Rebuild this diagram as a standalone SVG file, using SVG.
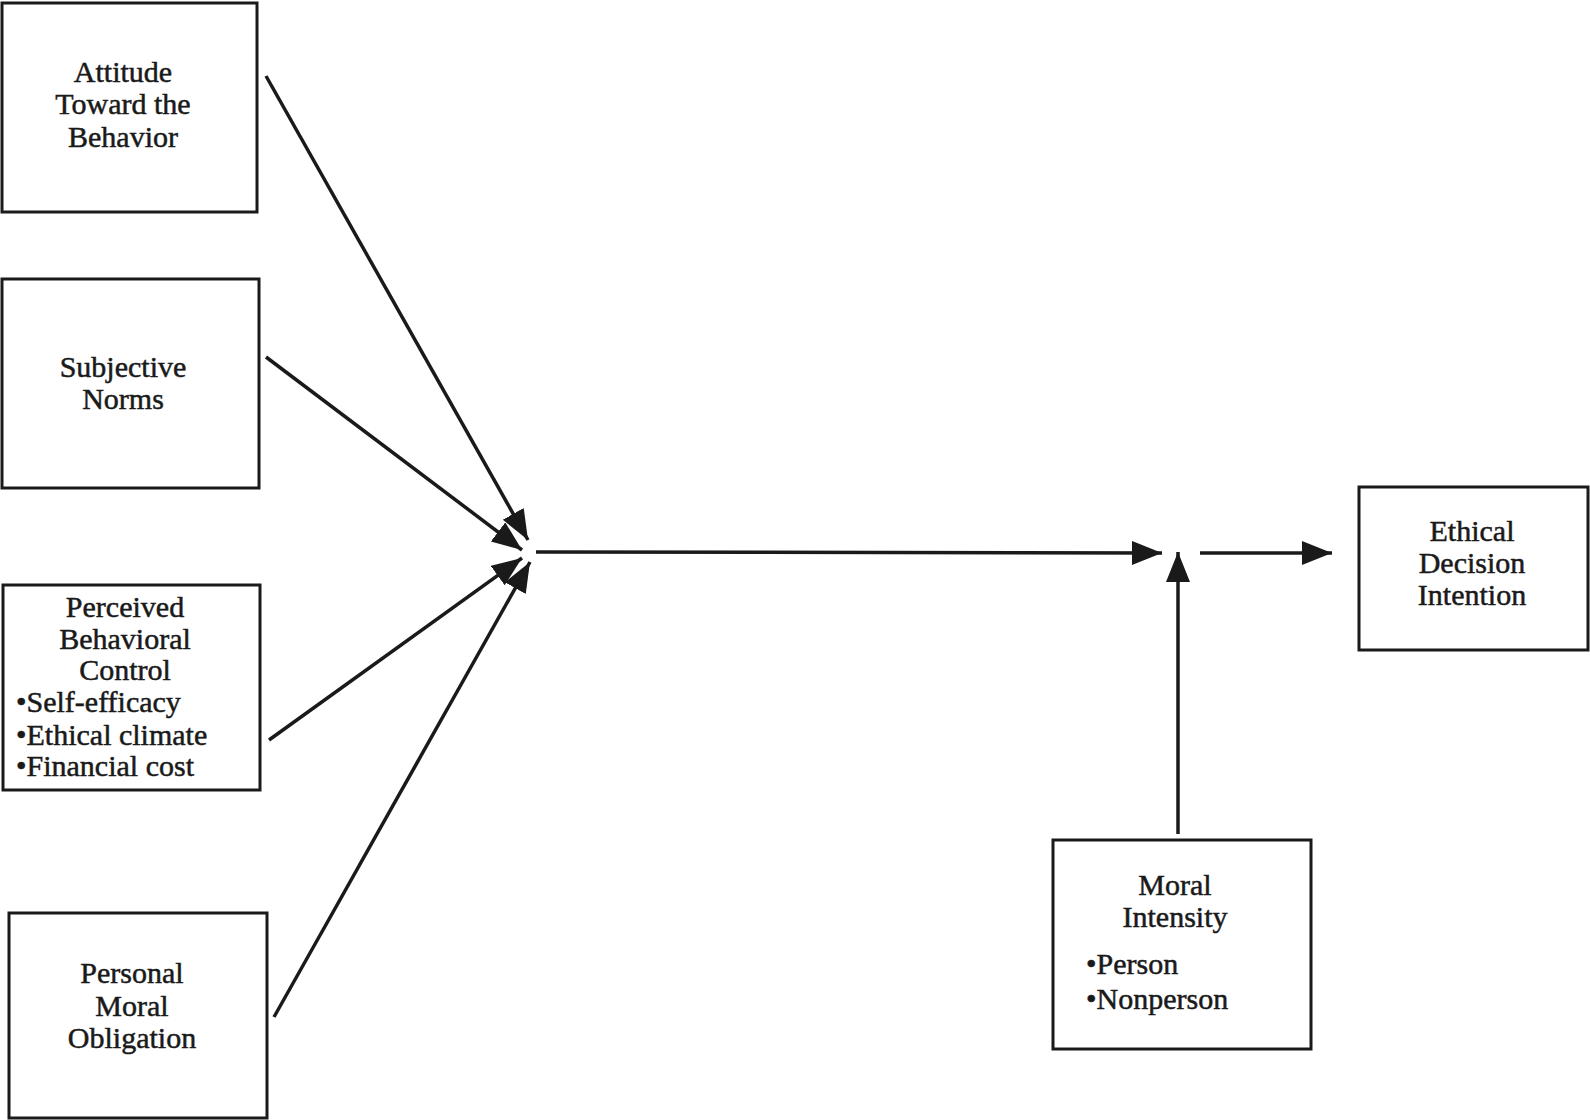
<svg xmlns="http://www.w3.org/2000/svg" width="1590" height="1120" viewBox="0 0 1590 1120">
<style>
.box{fill:#fff;stroke:#1a1a1a;stroke-width:3}
.t{font-family:"Liberation Serif","Times New Roman",serif;font-size:30px;fill:#1a1a1a;stroke:#1a1a1a;stroke-width:0.5;text-anchor:middle}
.l{text-anchor:start}
.c{stroke:#1a1a1a;stroke-width:3.5;fill:none;marker-end:url(#ah)}
</style>
<defs>
<marker id="ah" markerUnits="userSpaceOnUse" markerWidth="32" markerHeight="26" refX="30" refY="12" orient="auto">
<path d="M0,0 L30,12 L0,24 z" fill="#1a1a1a"/>
</marker>
</defs>
<rect width="1590" height="1120" fill="#fff"/>
<g id="attitude">
<rect class="box" x="2" y="3" width="255" height="209"/>
<text class="t" x="123" y="82">Attitude</text>
<text class="t" x="123" y="114">Toward the</text>
<text class="t" x="123" y="147">Behavior</text>
</g>
<g id="norms">
<rect class="box" x="2" y="279" width="257" height="209"/>
<text class="t" x="123" y="377">Subjective</text>
<text class="t" x="123" y="409">Norms</text>
</g>
<g id="pbc">
<rect class="box" x="3" y="585" width="257" height="205"/>
<text class="t" x="125" y="617">Perceived</text>
<text class="t" x="125" y="649">Behavioral</text>
<text class="t" x="125" y="680">Control</text>
<text class="t l" x="16" y="712">•Self-efficacy</text>
<text class="t l" x="16" y="745">•Ethical climate</text>
<text class="t l" x="16" y="776">•Financial cost</text>
</g>
<g id="pmo">
<rect class="box" x="9" y="913" width="258" height="205"/>
<text class="t" x="132" y="983">Personal</text>
<text class="t" x="132" y="1016">Moral</text>
<text class="t" x="132" y="1048">Obligation</text>
</g>
<g id="moral">
<rect class="box" x="1053" y="840" width="258" height="209"/>
<text class="t" x="1175" y="895">Moral</text>
<text class="t" x="1175" y="927">Intensity</text>
<text class="t l" x="1086" y="974">•Person</text>
<text class="t l" x="1086" y="1009">•Nonperson</text>
</g>
<g id="ethical">
<rect class="box" x="1359" y="487" width="229" height="163"/>
<text class="t" x="1472" y="541">Ethical</text>
<text class="t" x="1472" y="573">Decision</text>
<text class="t" x="1472" y="605">Intention</text>
</g>
<g id="connectors">
<line class="c" x1="266" y1="76" x2="528" y2="540"/>
<line class="c" x1="266" y1="357" x2="522" y2="550"/>
<line class="c" x1="269" y1="740" x2="522" y2="558"/>
<line class="c" x1="274" y1="1017" x2="530" y2="562"/>
<line class="c" x1="536" y1="552" x2="1162" y2="553"/>
<line class="c" x1="1178" y1="834" x2="1178" y2="552"/>
<line class="c" x1="1200" y1="553" x2="1332" y2="553"/>
</g>
</svg>
